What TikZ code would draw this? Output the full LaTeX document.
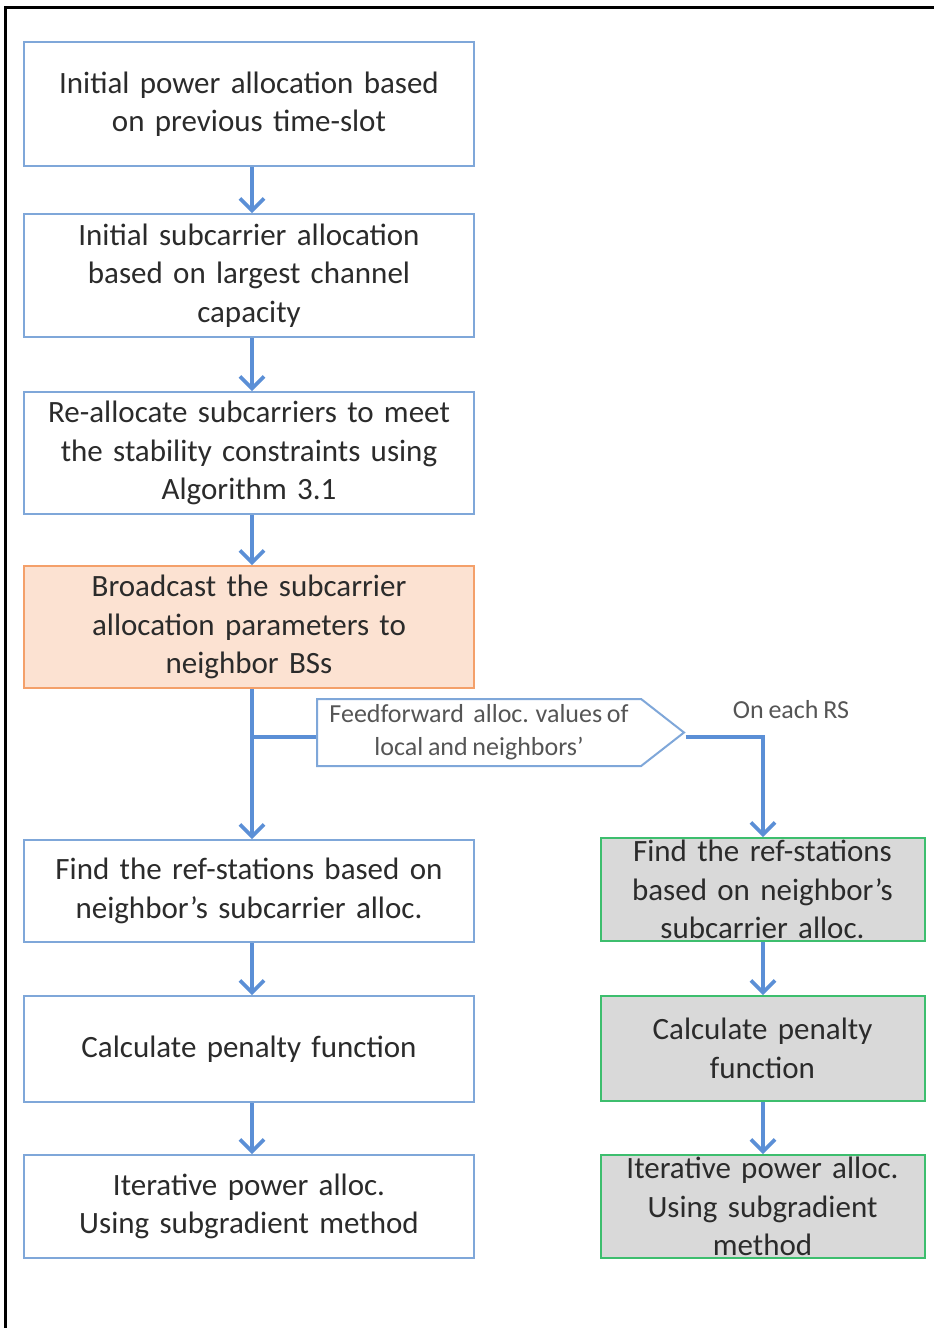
\documentclass[tikz,border=0pt]{standalone}
\usepackage{fontspec}
\setmainfont[WordSpace=0.8]{Carlito}
\usetikzlibrary{positioning, arrows.meta, shapes.symbols}
\definecolor{boxblue}{HTML}{7FA7D9}
\definecolor{arrowblue}{HTML}{5B8FD6}
\definecolor{orangeline}{HTML}{F4A06A}
\definecolor{orangefill}{HTML}{FCE2D2}
\definecolor{greenline}{HTML}{3DBE6E}
\definecolor{grayfill}{HTML}{D9D9D9}
\definecolor{textgray}{HTML}{2B2B2B}

\begin{document}
\begin{tikzpicture}[
    x=0.5pt, y=-0.5pt,
    >={Straight Barb[length=6pt,width=12pt]},
    stepbox/.style={rectangle, draw=boxblue, line width=1pt, fill=white, minimum width=225pt, inner xsep=1pt, inner ysep=0pt, text width=223pt, align=center, text=textgray, font=\fontsize{15.5}{19.25}\selectfont},
    bcastbox/.style={stepbox, draw=orangeline, fill=orangefill},
    rsbox/.style={stepbox, draw=greenline, fill=grayfill, minimum width=161.5pt, text width=160pt},
    flow/.style={->, arrowblue, line width=1.8pt},
    link/.style={arrowblue, line width=1.8pt},
]
\useasboundingbox (0,0) rectangle (934,1328);

% === Outer frame ===
\draw[line width=1.5pt] (5,1328) -- (5,7) -- (934,7);

% === Steps on each BS (left column) ===
\node[stepbox, minimum height=62pt] (init) at (249,104) {Initial power allocation based\\on previous time-slot};
\node[stepbox, minimum height=61.5pt] (subc) at (249,275.5) {Initial subcarrier allocation\\based on largest channel\\capacity};
\node[stepbox, minimum height=61pt] (realloc) at (249,453) {Re-allocate subcarriers to meet\\the stability constraints using\\Algorithm 3.1};
\node[bcastbox, minimum height=61pt] (bcast) at (249,627) {Broadcast the subcarrier\\allocation parameters to\\neighbor BSs};
\node[stepbox, minimum height=51pt] (findbs) at (249,891) {Find the ref-stations based on\\neighbor’s subcarrier alloc.};
\node[stepbox, minimum height=53pt] (penbs) at (249,1049) {Calculate penalty function};
\node[stepbox, minimum height=51.5pt] (iterbs) at (249,1206.5) {Iterative power alloc.\\Using subgradient method};

% === Steps on each RS (right column) ===
\node[rsbox, minimum height=51.5pt] (findrs) at (762.5,889.5) {Find the ref-stations\\based on neighbor’s\\subcarrier alloc.};
\node[rsbox, minimum height=52.5pt] (penrs) at (762.5,1048.5) {Calculate penalty\\function};
\node[rsbox, minimum height=51.5pt] (iterrs) at (762.5,1206.5) {Iterative power alloc.\\Using subgradient\\method};

% === Feedforward tag ===
\node[signal, signal to=east, signal pointer angle=76, draw=boxblue, line width=1pt, fill=white,
      minimum width=183.5pt, minimum height=33.5pt, inner sep=1pt, anchor=west, align=center,
      text=textgray!80, font=\fontsize{13}{16.5}\selectfont] (ffwd) at (316,732.5)
    {Feedforward\ \ alloc. values of\\local and neighbors’};
\node[text=textgray!80, font=\fontsize{13}{15}\selectfont] (oneach) at (791,710) {On each RS};

\coordinate (split) at (252,737);
\coordinate (turn) at (763,737);

% === Arrows ===
\draw[flow] (init.south -| split) -- (subc.north -| split);
\draw[flow] (subc.south -| split) -- (realloc.north -| split);
\draw[flow] (realloc.south -| split) -- (bcast.north -| split);
\draw[flow] (bcast.south -| split) -- (findbs.north -| split);
\draw[flow] (findbs.south -| split) -- (penbs.north -| split);
\draw[flow] (penbs.south -| split) -- (iterbs.north -| split);

\draw[link] (split) -- (split -| ffwd.west);
\draw[flow] (ffwd.east |- turn) -- (turn) -- (findrs.north -| turn);
\draw[flow] (findrs.south -| turn) -- (penrs.north -| turn);
\draw[flow] (penrs.south -| turn) -- (iterrs.north -| turn);

\end{tikzpicture}
\end{document}
